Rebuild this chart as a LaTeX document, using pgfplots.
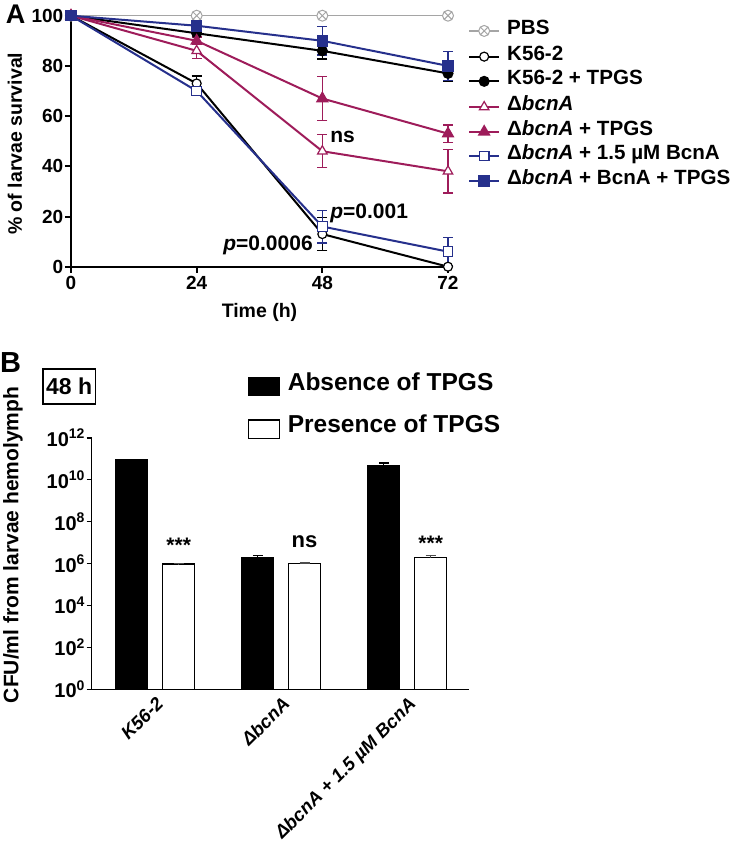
\documentclass[border=0pt]{standalone}
\usepackage{fontspec}
\setmainfont{Liberation Sans}
\usepackage{pgfplots}
\pgfplotsset{compat=1.18}
\definecolor{berry}{RGB}{158,28,90}
\definecolor{navy}{RGB}{38,48,140}
\definecolor{pbsgray}{RGB}{165,165,165}
\newcommand{\fs}[1]{\fontsize{#1}{#1}\selectfont}
\pgfplotsset{
  eb/.style={error bars/.cd, y dir=both, y explicit,
    error bar style={line width=1.3pt, solid},
    error mark options={rotate=90, mark size=5pt, line width=1.3pt}},
}
\begin{document}
\begin{tikzpicture}[x=1pt,y=1pt]
\useasboundingbox (0,0) rectangle (733,-845);
% ---------------- Panel A ----------------
\begin{axis}[
  at={(71pt,-266.7pt)}, anchor=south west, scale only axis,
  width=377pt, height=251pt,
  xmin=0, xmax=72, ymin=0, ymax=100, clip=false,
  axis lines=left, axis line style={-, line width=2pt},
  xtick={0,24,48,72}, ytick={0,20,...,100},
  tick align=outside, major tick length=6pt,
  major tick style={line width=2pt, black},
  /pgf/number format/assume math mode=true,
  tick label style={font=\bfseries\fs{19}},
  yticklabel style={inner sep=1.5pt},
  xlabel={Time (h)}, ylabel={\% of larvae survival},
  label style={font=\bfseries\fs{19.5}},
  xlabel style={at={(axis description cs:0.5,-0.183)}, anchor=center},
  ylabel style={at={(axis description cs:-0.1485,0.49)}, anchor=center},
  legend image code/.code={\draw[mark repeat=2,mark phase=2,#1] plot coordinates {(0pt,0pt) (15pt,0pt) (30pt,0pt)};},
  legend style={at={(1.053,0.962)}, anchor=north west, draw=none, fill=none,
    inner sep=0pt, row sep=15.7pt, column sep=7pt,
    nodes={inner sep=0pt, text height=0.72em, text depth=0pt, font=\bfseries\fs{20.6}}},
  legend cell align=left,
]
\addplot[pbsgray, line width=1.5pt, mark=otimes*, mark size=5.5pt, mark options={fill=white, line width=1pt}]
  coordinates {(0,100) (24,100) (48,100) (72,100)};
\addlegendentry{PBS}
\addplot[black, line width=2pt, mark=*, mark size=4.5pt, mark options={fill=white, line width=1.2pt}, eb]
  coordinates {(0,100) +- (0,0) (24,73) +- (0,3) (48,13) +- (0,6.5) (72,0) +- (0,0)};
\addlegendentry{K56-2}
\addplot[black, line width=2pt, mark=*, mark size=4.5pt, mark options={fill=black}, eb]
  coordinates {(0,100) +- (0,0) (24,93) +- (0,1.5) (48,86) +- (0,3.3) (72,77) +- (0,3.3)};
\addlegendentry{K56-2 + TPGS}
\addplot[berry, line width=2pt, mark=triangle*, mark size=5.5pt, mark options={fill=white, line width=1.2pt}, eb]
  coordinates {(0,100) +- (0,0) (24,86) +- (0,3) (48,46) +- (0,6.6) (72,38) +- (0,8.6)};
\addlegendentry{Δ\textit{bcnA}}
\addplot[berry, line width=2pt, mark=triangle*, mark size=5.5pt, mark options={fill=berry}, eb]
  coordinates {(0,100) +- (0,0) (24,90) +- (0,1.5) (48,67) +- (0,8.7) (72,53) +- (0,3.5)};
\addlegendentry{Δ\textit{bcnA} + TPGS}
\addplot[navy, line width=2pt, mark=square*, mark size=4.8pt, mark options={fill=white, line width=1.2pt}, eb]
  coordinates {(0,100) +- (0,0) (24,70) +- (0,1.5) (48,16) +- (0,6.5) (72,6) +- (0,5.7)};
\addlegendentry{Δ\textit{bcnA} + 1.5 µM BcnA}
\addplot[navy, line width=2pt, mark=square*, mark size=4.8pt, mark options={fill=navy}, eb]
  coordinates {(0,100) +- (0,0) (24,96) +- (0,1.5) (48,90) +- (0,5.7) (72,80) +- (0,5.8)};
\addlegendentry{Δ\textit{bcnA} + BcnA + TPGS}
\node[anchor=west, inner sep=0pt, font=\bfseries\fs{21}] at (axis cs:49.5,51.7) {ns};
\node[anchor=west, inner sep=0pt, font=\bfseries\fs{21}] at (axis cs:49.5,21.4) {\textit{p}=0.001};
\node[anchor=east, inner sep=0pt, font=\bfseries\fs{21}] at (axis cs:46.2,8.4) {\textit{p}=0.0006};
\end{axis}
% ---------------- Panel B ----------------
\begin{axis}[
  at={(91.7pt,-689.3pt)}, anchor=south west, scale only axis,
  width=377.3pt, height=251.6pt,
  ymode=log, log basis y=10, ymin=1, ymax=1e12,
  xmin=-0.504, xmax=2.49, clip=false,
  axis lines=left, axis line style={-, line width=1.6pt},
  ytick={1,1e2,1e4,1e6,1e8,1e10,1e12},
  yticklabels={{10\textsuperscript{0}},{10\textsuperscript{2}},{10\textsuperscript{4}},{10\textsuperscript{6}},{10\textsuperscript{8}},{10\textsuperscript{10}},{10\textsuperscript{12}}},
  yminorticks=false,
  xtick={0,1,2},
  xticklabels={K56-2, Δbcn{A}, Δbcn{A} + 1.5 µM Bcn{A}},
  x tick label style={rotate=45, anchor=north east, font=\bfseries\itshape\fs{18.5}, inner sep=1pt},
  y tick label style={font=\bfseries\fs{20}, inner sep=1.5pt},
  tick align=outside, major tick length=5pt,
  major tick style={line width=1.6pt, black},
  xtick style={draw=none},
  ylabel={CFU/ml from larvae hemolymph},
  ylabel style={at={(axis description cs:-0.2086,0.574)}, anchor=center, font=\bfseries\fs{21}},
  legend style={at={(0.4135,1.2425)}, anchor=north west, draw=none, fill=none,
    inner sep=0pt, row sep=23pt, column sep=8pt,
    nodes={inner sep=0pt, text height=0.72em, text depth=0pt, font=\bfseries\fs{24.5}}},
  legend cell align=left,
]
\addplot[ybar, bar width=32pt, bar shift=0pt, fill=black, draw=black, line width=1pt,
  legend image code/.code={\draw[fill=black, draw=black, line width=1.3pt] (0pt,-9.15pt) rectangle (30.6pt,9.15pt);},
  error bars/.cd, y dir=plus, y explicit,
  error bar style={line width=1.3pt}, error mark options={rotate=90, mark size=5pt, line width=1.3pt}]
  coordinates {(-0.186,8.7e10) +- (0,0.2e10) (0.814,1.95e6) +- (0,0.5e6) (1.814,4.8e10) +- (0,1.5e10)};
\addlegendentry{Absence of TPGS}
\addplot[ybar, bar width=32pt, bar shift=0pt, fill=white, draw=black, line width=1.2pt,
  legend image code/.code={\draw[fill=white, draw=black, line width=1.3pt] (0pt,-9.15pt) rectangle (30.6pt,9.15pt);},
  error bars/.cd, y dir=plus, y explicit,
  error bar style={line width=1.3pt, black!70}, error mark options={rotate=90, mark size=5pt, line width=1.3pt, black!70}]
  coordinates {(0.186,9.5e5) +- (0,0.4e5) (1.186,1.02e6) +- (0,0.5e5) (2.186,1.9e6) +- (0,0.55e6)};
\addlegendentry{Presence of TPGS}
\node[font=\bfseries\fs{21}] at (axis cs:0.1865,7.6e6) {***};
\node[font=\bfseries\fs{22}] at (axis cs:1.185,1.1e7) {ns};
\node[font=\bfseries\fs{21}] at (axis cs:2.186,9.5e6) {***};
\end{axis}
% ---------------- labels ----------------
\node[font=\bfseries\fs{27}] at (15.5,-14) {A};
\node[font=\bfseries\fs{29}] at (10.5,-362.5) {B};
\node[draw, line width=1.5pt, minimum width=52.4pt, minimum height=35pt, inner sep=0pt, font=\bfseries\fs{23}] at (69.2,-386.5) {48 h};
\end{tikzpicture}
\end{document}
